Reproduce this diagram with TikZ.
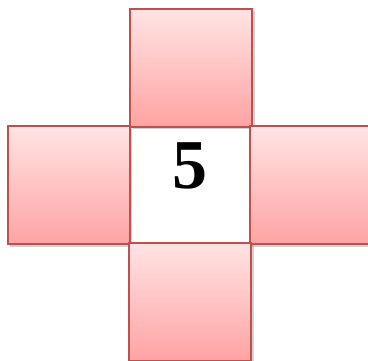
\documentclass[tikz,border=0pt]{standalone}
\usepackage{fontspec}
\setmainfont{Liberation Serif}
\usepackage{tikz}
\usetikzlibrary{shadows}
\definecolor{Brick}{HTML}{C0504D}
\definecolor{Blush}{HTML}{FFE3E3}
\definecolor{Salmon}{HTML}{FFA3A3}

\begin{document}
\begin{tikzpicture}[
          x=1pt, y=-1pt,
          face/.style={draw=Brick, line width=2pt, top color=Blush, bottom color=Salmon,
            minimum width=122pt, minimum height=118pt, inner sep=0pt,
            drop shadow={opacity=0.35, shadow xshift=2.5pt, shadow yshift=-2.5pt}},
          centre/.style={draw=Brick, line width=2pt, fill=white,
            minimum width=122pt, minimum height=118pt, inner sep=0pt},
          digit/.style={font=\fontsize{70}{70}\selectfont\bfseries}
        ]
          \clip (0,0) rectangle (368,361);
          \node[centre] (mid) at (191,185.5) {};
          \node[face] (up) at (191.5,68) {};
          \node[face] (lt) at (69,185.5) {};
          \node[face] (rt) at (311,185.5) {};
          \node[face] (dn) at (190.5,302) {};
          \node[digit] (five) at (190,166) {5};
        \end{tikzpicture}
\end{document}
